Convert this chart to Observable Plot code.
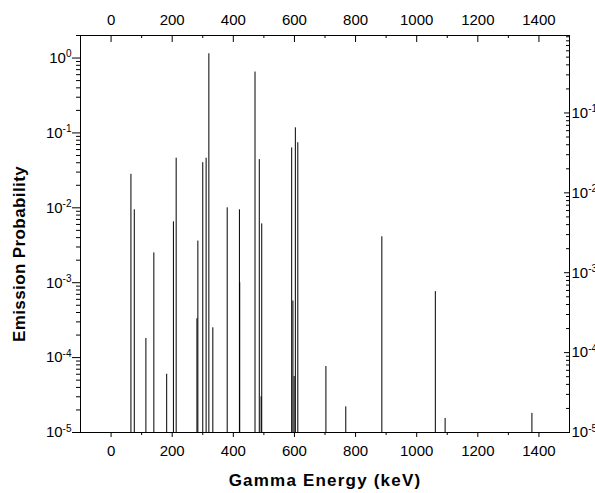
<!DOCTYPE html>
<html><head><meta charset="utf-8">
<script src="https://cdn.jsdelivr.net/npm/d3@7"></script>
<script src="https://cdn.jsdelivr.net/npm/@observablehq/plot@0.6"></script>
<style>body{margin:0;background:#fff;} #chart svg{overflow:hidden;}</style>
</head><body><div id="chart"></div>
<script>
// Gamma lines: energy (keV) and emission probability
const energies = [65, 76, 114, 140, 182, 204, 213, 281, 284, 300, 311, 320, 333, 380, 420, 421, 471, 485, 491, 493, 591, 595, 599, 603, 611, 703, 768, 886, 1061, 1093, 1377];
const probs = [0.028, 0.0094, 1.8e-4, 2.5e-3, 6.0e-5, 6.5e-3, 0.046, 3.3e-4, 3.6e-3, 0.040, 0.046, 1.14, 2.5e-4, 0.010, 0.0094, 1.0e-3, 0.65, 0.044, 3.0e-5, 6.1e-3, 0.063, 5.7e-4, 5.6e-5, 0.117, 0.074, 7.6e-5, 2.2e-5, 4.1e-3, 7.6e-4, 1.54e-5, 1.8e-5];

const xMajorTicks = [0, 200, 400, 600, 800, 1000, 1200, 1400];
const xMinorTicks = [100, 300, 500, 700, 900, 1100, 1300];
const yMajorTicks = [1e-5, 1e-4, 1e-3, 1e-2, 1e-1, 1e0];
const rightMajorTicks = [1e-5, 1e-4, 1e-3, 1e-2, 1e-1];

const data = energies.map((e, i) => ({e, p: probs[i]}));

const W = 595, H = 493, mL = 80, mR = 26, mT = 35, mB = 61;
const pw = W - mL - mR, ph = H - mT - mB;
const yMax = 2;

// minor log ticks
const minorOf = (majors, maxV) => {
  const out = [];
  for (const m of majors) for (let k = 2; k <= 9; k++) { const v = k * m; if (v <= maxV) out.push(v); }
  return out;
};
const yMinorTicks = minorOf(yMajorTicks, yMax);

// right axis has its own (slightly stretched) log scale: 80 px per decade vs 75 on the left
const ratio = 80 / 75;
const toLeft = v => Math.pow(10, -5 + (Math.log10(v) + 5) * ratio);
const rightMajorMapped = rightMajorTicks.map(toLeft);
const rightMinorMapped = minorOf([1e-5, 1e-4, 1e-3, 1e-2, 1e-1], 10).map(toLeft).filter(v => v <= yMax);

const fmtX = d => String(d);
const fmtLeft = d => "10|" + Math.round(Math.log10(d));
const fmtRight = d => "10|" + Math.round((Math.log10(d) + 5) / ratio - 5);

const chart = Plot.plot({
  width: W, height: H,
  marginLeft: mL, marginRight: mR, marginTop: mT, marginBottom: mB,
  style: {fontFamily: "'Liberation Sans', Arial, sans-serif", background: "#fff", color: "#000"},
  x: {domain: [-100, 1500]},
  y: {type: "log", domain: [1e-5, yMax]},
  marks: [
    Plot.ruleX(data, {x: "e", y1: 1e-5, y2: "p", stroke: "#000", strokeWidth: 1}),
    Plot.frame({stroke: "#000", strokeWidth: 1}),
    // bottom axis
    Plot.axisX(xMajorTicks, {anchor: "bottom", tickSize: 5, tickPadding: 8, fontSize: 15, tickFormat: fmtX, label: null}),
    Plot.axisX(xMinorTicks, {anchor: "bottom", tickSize: 3, tickFormat: () => "", label: null}),
    // top axis (labels outside, ticks inside)
    Plot.axisX(xMajorTicks, {anchor: "top", tickSize: 0, tickPadding: 11, fontSize: 15, tickFormat: fmtX, label: null}),
    Plot.ruleX(xMajorTicks, {x: d => d, insetBottom: ph - 7, stroke: "#000"}),
    Plot.ruleX(xMinorTicks, {x: d => d, insetBottom: ph - 3, stroke: "#000"}),
    // left axis
    Plot.axisY(yMajorTicks, {anchor: "left", tickSize: 8, tickPadding: 1, tickFormat: fmtLeft, fontSize: 15, label: null}),
    Plot.axisY(yMinorTicks, {anchor: "left", tickSize: 4, tickFormat: () => "", label: null}),
    // right axis (labels outside, ticks inside)
    Plot.axisY(rightMajorMapped, {anchor: "right", tickSize: 0, tickPadding: 2, tickFormat: fmtRight, fontSize: 15, label: null}),
    Plot.ruleY(rightMajorMapped, {y: d => d, insetLeft: pw - 5, stroke: "#000"}),
    Plot.ruleY(rightMinorMapped, {y: d => d, insetLeft: pw - 3, stroke: "#000"}),
    // titles
    Plot.text(["Gamma Energy (keV)"], {text: d => d, frameAnchor: "bottom", textAnchor: "middle", lineAnchor: "middle", dy: 48, fontSize: 17, fontWeight: "bold", fill: "#000"}),
    Plot.text(["Emission Probability"], {text: d => d, frameAnchor: "left", textAnchor: "middle", lineAnchor: "middle", dx: -60.5, dy: 20, rotate: -90, fontSize: 17, fontWeight: "bold", fill: "#000"})
  ]
});

document.getElementById("chart").appendChild(chart);

// superscript exponents on the y tick labels
d3.select(chart).selectAll("text").each(function() {
  const t = this.textContent;
  if (t && t.startsWith("10|") && this.childElementCount === 0) {
    const exp = t.slice(3);
    this.textContent = "";
    d3.select(this).append("tspan").text("10");
    d3.select(this).append("tspan").attr("dy", "-0.55em").attr("font-size", "10px").text(exp);
  }
  if (t === "Gamma Energy (keV)") this.setAttribute("letter-spacing", "1.2");
  if (t === "Emission Probability") this.setAttribute("letter-spacing", "0.4");
});
</script>
</body></html>
